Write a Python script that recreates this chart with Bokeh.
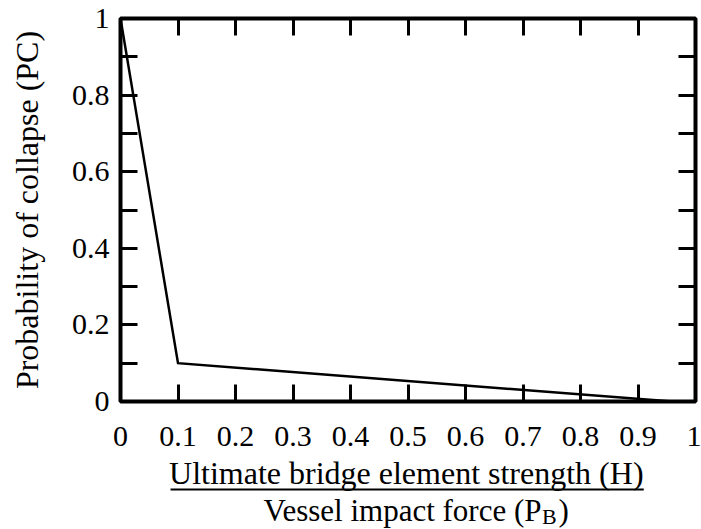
from bokeh.plotting import figure
from bokeh.models import LinearAxis, FixedTicker, Range1d
from bokeh.layouts import column
from bokeh.core.properties import value
from bokeh.embed import file_html
from bokeh.resources import INLINE

# ---- data ----
ratio = [0.0, 0.1, 0.96]          # H / P_B
pc = [1.0, 0.1, 0.0]              # probability of collapse
x_ticks = [0.0, 0.1, 0.2, 0.3, 0.4, 0.5, 0.6, 0.7, 0.8, 0.9, 1.0]
x_tick_labels = ["0", "0.1", "0.2", "0.3", "0.4", "0.5", "0.6", "0.7", "0.8", "0.9", "1"]
y_ticks = [0.0, 0.2, 0.4, 0.6, 0.8, 1.0]
y_tick_labels = ["0", "0.2", "0.4", "0.6", "0.8", "1"]
y_minor_ticks = [0.1, 0.3, 0.5, 0.7, 0.9]
y_title = "Probability of collapse (PC)"
x_title_num = "Ultimate bridge element strength (H)"
x_title_den = "Vessel impact force (P"
x_title_sub = "B"
x_title_close = ")"

FONT = "Liberation Serif"
TICK_FS = "30px"
TITLE_FS = "32px"
DEN_FS = "31px"
SUB_FS = "22px"
W = 701
H_MAIN = 456
H_TITLE = 73
TICK_LEN = 17
BORDER_L, BORDER_R = 120, 6

p = figure(width=W, height=H_MAIN, x_range=Range1d(0, 1), y_range=Range1d(0, 1),
           output_backend="svg", toolbar_location=None, title=None,
           x_axis_type=None, y_axis_type=None,
           min_border_left=BORDER_L, min_border_right=BORDER_R, min_border_top=18, min_border_bottom=55)
p.outline_line_color = "black"
p.outline_line_width = 4
p.background_fill_color = "white"
p.border_fill_color = "white"


def style_axis(ax):
    ax.major_tick_in = TICK_LEN
    ax.major_tick_out = 0
    ax.major_tick_line_width = 3
    ax.major_tick_line_color = "black"
    ax.minor_tick_in = TICK_LEN
    ax.minor_tick_out = 0
    ax.minor_tick_line_width = 3
    ax.minor_tick_line_color = "black"
    ax.axis_line_color = None
    ax.major_label_text_font = FONT
    ax.major_label_text_font_size = TICK_FS
    ax.major_label_text_color = "black"
    ax.major_label_text_font_style = "normal"
    return ax


left = style_axis(LinearAxis(ticker=FixedTicker(ticks=y_ticks, minor_ticks=y_minor_ticks)))
left.major_label_overrides = {t: l for t, l in zip(y_ticks, y_tick_labels)}
left.major_label_standoff = 11
left.axis_label = y_title
left.axis_label_text_font = FONT
left.axis_label_text_font_size = TITLE_FS
left.axis_label_text_font_style = "normal"
left.axis_label_text_color = "black"
left.axis_label_standoff = 24
p.add_layout(left, "left")

bottom = style_axis(LinearAxis(ticker=FixedTicker(ticks=x_ticks, minor_ticks=[])))
bottom.major_label_overrides = {t: l for t, l in zip(x_ticks, x_tick_labels)}
bottom.major_label_standoff = 25
p.add_layout(bottom, "below")

# mirrored tick marks (no labels) on the right and top edges
right = style_axis(LinearAxis(ticker=FixedTicker(ticks=[], minor_ticks=y_ticks + y_minor_ticks)))
p.add_layout(right, "right")
top = style_axis(LinearAxis(ticker=FixedTicker(ticks=[], minor_ticks=x_ticks)))
p.add_layout(top, "above")

p.line(ratio, pc, line_width=2.5, line_color="black", line_join="miter")

# ---- x-axis title drawn as a fraction in a strip below the plot ----
# strip shares the main x range (frames aligned); y is pixels up from the page bottom
t = figure(width=W, height=H_TITLE, x_range=p.x_range, y_range=Range1d(0, H_TITLE),
           output_backend="svg", toolbar_location=None, title=None,
           x_axis_type=None, y_axis_type=None,
           min_border_left=BORDER_L, min_border_right=BORDER_R, min_border_top=0, min_border_bottom=0)
t.outline_line_color = None
t.background_fill_color = "white"
t.border_fill_color = "white"
t.grid.visible = False

txt = dict(text_baseline="middle", text_font=value(FONT), text_color="black")
t.text(x=[0.497], y=[56.8], text=[x_title_num], text_align="center",
       text_font_size=value(TITLE_FS), **txt)
t.segment(x0=[0.087], y0=[40], x1=[0.91], y1=[40], line_width=2, line_color="black")
t.text(x=[0.7322], y=[19.5], text=[x_title_den], text_align="right",
       text_font_size=value(DEN_FS), **txt)
t.text(x=[0.7330], y=[13.0], text=[x_title_sub], text_align="left",
       text_font_size=value(SUB_FS), **txt)
t.text(x=[0.7617], y=[19.5], text=[x_title_close], text_align="left",
       text_font_size=value(DEN_FS), **txt)

layout = column(p, t, spacing=0)
open("out.html", "w").write(file_html(layout, INLINE))
